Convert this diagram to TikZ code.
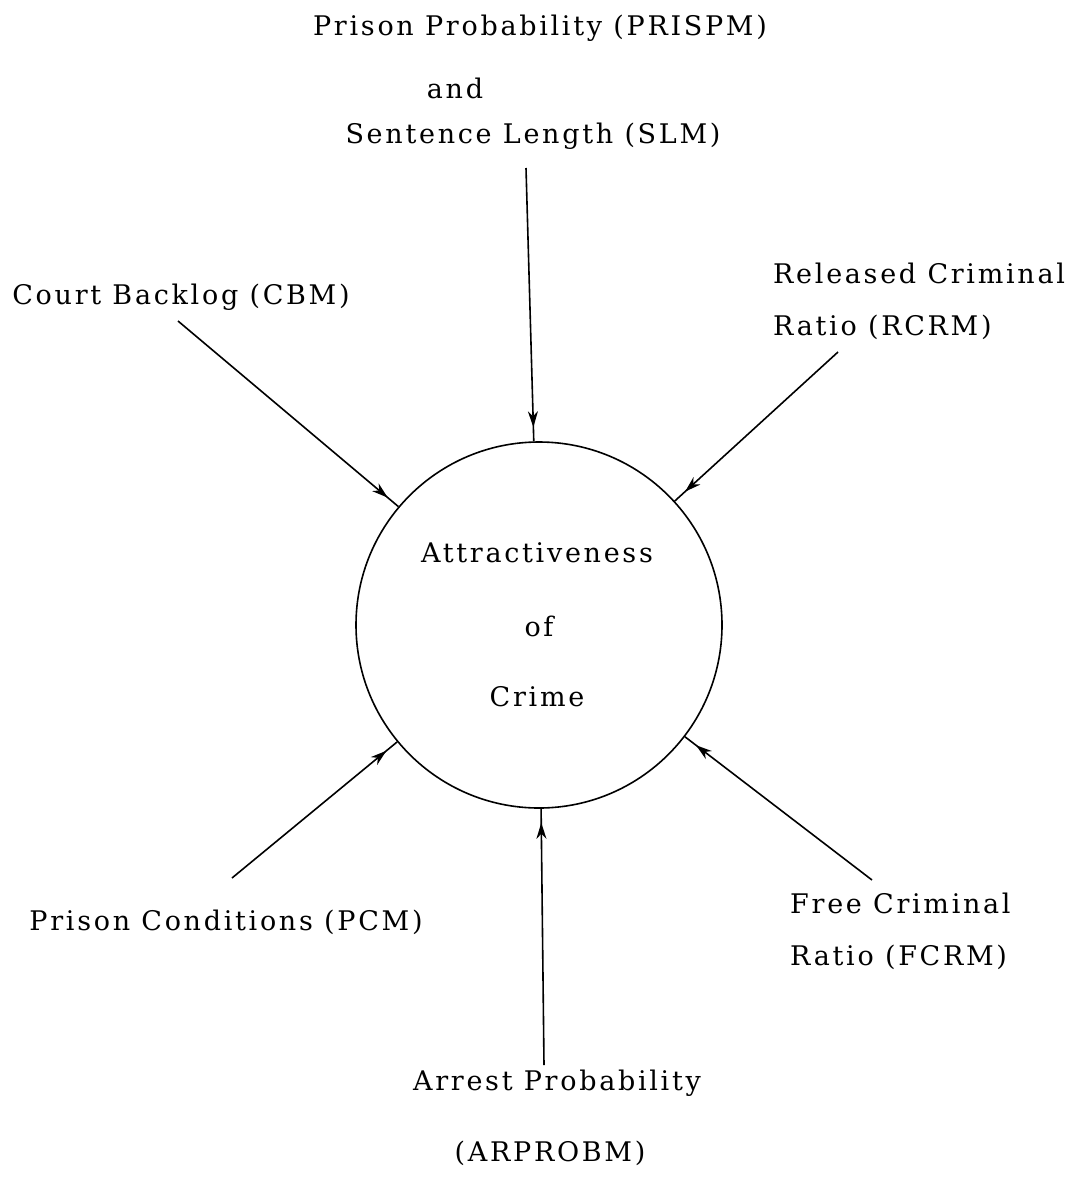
\documentclass[tikz,border=0pt]{standalone}
\usepackage{fontspec}
\setmainfont{DejaVu Serif}[LetterSpace=10]
\usetikzlibrary{arrows.meta,decorations.markings}
\begin{document}
\begin{tikzpicture}[x=1pt,y=-1pt,
  lbl/.style={inner sep=0pt,font=\fontsize{27}{31}\selectfont},
  feed/.style={line width=1.6pt,
    postaction={decorate},
    decoration={markings,
      mark=at position -14pt with {\arrow{Stealth[length=16pt,width=10pt,inset=5pt]}}}}
  ]
\useasboundingbox (0,0) rectangle (1076,1202);

% central sector
\node[draw,circle,line width=1.6pt,minimum size=366pt,inner sep=0pt] (attr) at (539,625) {};
\node[lbl] (t1) at (537,553) {Attractiveness};
\node[lbl] (t2) at (539,626) {of};
\node[lbl] (t3) at (537,697) {Crime};

% influencing multipliers
\node[lbl] (prisA) at (540,28) {Prison Probability (PRISPM)};
\node[lbl] (prisB) at (455,88) {and};
\node[lbl] (prisC) at (533,136) {Sentence Length (SLM)};
\node[lbl] (cbm) at (181,297) {Court Backlog (CBM)};
\node[lbl,anchor=west] (rcrmA) at (773,273) {Released Criminal};
\node[lbl,anchor=west] (rcrmB) at (773,327) {Ratio (RCRM)};
\node[lbl] (pcm) at (226,922) {Prison Conditions (PCM)};
\node[lbl,anchor=west] (fcrmA) at (790,903) {Free Criminal};
\node[lbl,anchor=west] (fcrmB) at (790,957) {Ratio (FCRM)};
\node[lbl] (arpA) at (557,1083) {Arrest Probability};
\node[lbl] (arpB) at (550,1153) {(ARPROBM)};

% connector tails
\coordinate (s1) at (526,168);
\coordinate (s2) at (178,321);
\coordinate (s3) at (838,352);
\coordinate (s4) at (232,878);
\coordinate (s5) at (544,1065);
\coordinate (s6) at (872,880);

\foreach \s in {s1,s2,s3,s4,s5,s6}
  \draw[feed] (\s) -- (attr);
\end{tikzpicture}
\end{document}
